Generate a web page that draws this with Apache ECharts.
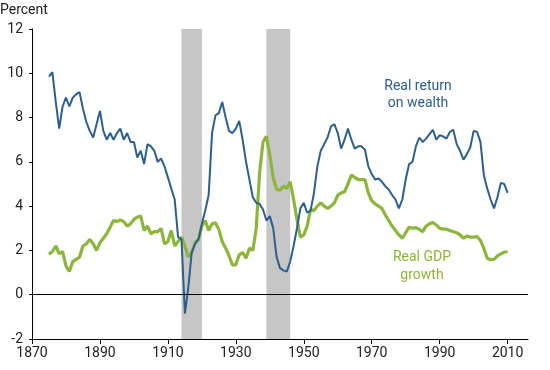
<!DOCTYPE html>
<html>
<head>
<meta charset="utf-8">
<script src="https://cdn.jsdelivr.net/npm/echarts@6/dist/echarts.min.js"></script>
<style>
html,body{margin:0;padding:0;background:#fff;}
#chart{width:550px;height:370px;}
</style>
</head>
<body>
<div id="chart"></div>
<script>
// ---- Data ----
const startYear = 1875;
const realReturnOnWealth = [
  9.85, 10.05, 8.7, 7.5, 8.5, 8.9, 8.5, 8.9, 9.05, 9.15,
  8.4, 7.8, 7.4, 7.1, 7.7, 8.3, 7.4, 7.0, 7.3, 7.0,
  7.3, 7.5, 7.0, 7.3, 6.9, 6.9, 6.2, 6.5, 5.9, 6.8,
  6.7, 6.5, 6.0, 6.15, 5.8, 5.3, 4.8, 4.3, 2.6, 2.5,
  -0.85, 0.3, 1.9, 2.3, 2.5, 3.2, 3.8, 4.5, 7.3, 8.1,
  8.2, 8.7, 8.0, 7.4, 7.3, 7.5, 7.85, 7.0, 6.0, 5.2,
  4.4, 4.15, 4.1, 3.85, 3.35, 3.55, 3.0, 1.7, 1.2, 1.1,
  1.05, 1.5, 2.2, 3.0, 3.9, 4.15, 3.7, 3.8, 4.6, 5.8,
  6.5, 6.8, 7.1, 7.6, 7.7, 7.3, 6.6, 7.0, 7.5, 7.0,
  6.6, 6.7, 6.7, 6.55, 5.8, 5.45, 5.2, 5.25, 5.1, 4.9,
  4.75, 4.5, 4.3, 3.9, 4.3, 5.2, 5.9, 6.0, 6.7, 7.1,
  6.9, 7.05, 7.25, 7.45, 7.0, 7.2, 7.15, 7.05, 7.35, 7.45,
  6.8, 6.5, 6.1, 6.35, 6.65, 7.4, 7.35, 6.9, 5.4, 4.8,
  4.3, 3.9, 4.4, 5.05, 5.0, 4.6
];
const realGdpGrowth = [
  1.83, 1.95, 2.2, 1.85, 1.95, 1.3, 1.05, 1.5, 1.6, 1.7,
  2.2, 2.3, 2.5, 2.3, 2.0, 2.35, 2.55, 2.75, 3.05, 3.35,
  3.3, 3.38, 3.3, 3.1, 3.2, 3.4, 3.5, 3.55, 2.9, 3.1,
  2.75, 2.85, 2.85, 3.0, 2.3, 2.4, 2.9, 2.2, 2.4, 2.6,
  2.2, 1.7, 1.9, 2.35, 2.5, 3.1, 3.35, 2.9, 3.2, 3.25,
  2.95, 2.4, 2.1, 1.75, 1.35, 1.35, 1.8, 1.9, 1.65, 2.1,
  2.0, 3.0, 5.5, 6.9, 7.15, 6.3, 5.3, 4.75, 4.72, 4.9,
  4.8, 5.1, 4.3, 3.4, 2.6, 2.7, 3.1, 3.85, 3.8, 4.0,
  4.15, 4.0, 3.9, 4.0, 4.15, 4.5, 4.6, 4.65, 5.0, 5.4,
  5.3, 5.2, 5.2, 5.2, 4.6, 4.25, 4.1, 4.0, 3.9, 3.6,
  3.35, 3.1, 2.9, 2.7, 2.55, 2.8, 3.05, 3.0, 3.03, 2.95,
  2.85, 3.1, 3.2, 3.26, 3.15, 3.0, 2.96, 2.96, 2.9, 2.85,
  2.8, 2.7, 2.55, 2.65, 2.6, 2.6, 2.63, 2.45, 2.1, 1.65,
  1.58, 1.6, 1.75, 1.85, 1.92, 1.95
];
const warPeriods = [[1914, 1920], [1939, 1946]];
const xTickLabels = [1870, 1890, 1910, 1930, 1950, 1970, 1990, 2010];
const yTickLabels = [-2, 0, 2, 4, 6, 8, 10, 12];

// ---- Build ----
const years = realReturnOnWealth.map((_, i) => startYear + i);
const blueData = years.map((y, i) => [y, realReturnOnWealth[i]]);
const greenData = years.map((y, i) => [y, realGdpGrowth[i]]);

const FONT = 'Roboto';
const BLUE = '#2d5f8e';
const GREEN = '#8db53c';

const chart = echarts.init(document.getElementById('chart'), null, {renderer: 'canvas'});
chart.setOption({
  animation: false,
  grid: {left: 32, right: 22, top: 29, bottom: 31, containLabel: false},
  xAxis: {
    type: 'value',
    min: 1870, max: 2016, interval: 20,
    axisLine: {show: true, onZero: false, lineStyle: {color: '#000', width: 1}},
    axisTick: {show: true, length: 5, lineStyle: {color: '#000'}, customValues: xTickLabels},
    axisLabel: {color: '#222', fontFamily: FONT, fontSize: 14, margin: 7, customValues: xTickLabels,
      formatter: v => String(v)},
    splitLine: {show: false}
  },
  yAxis: {
    type: 'value',
    min: -2, max: 12, interval: 2,
    axisLine: {show: true, onZero: false, lineStyle: {color: '#000', width: 1}},
    axisTick: {show: true, length: 3, lineStyle: {color: '#000'}, customValues: yTickLabels},
    axisLabel: {color: '#222', fontFamily: FONT, fontSize: 14, margin: 9, customValues: yTickLabels},
    splitLine: {show: false}
  },
  graphic: [
    {type: 'text', left: 0, top: 3, style: {text: 'Percent', font: '14px Roboto', fill: '#222'}},
    {type: 'text', x: 418, y: 95, style: {text: 'Real return\non wealth', font: '14px Roboto', fill: BLUE,
      textAlign: 'center', textVerticalAlign: 'middle', lineHeight: 17}},
    {type: 'text', x: 422, y: 266, style: {text: 'Real GDP\ngrowth', font: '14px Roboto', fill: GREEN,
      textAlign: 'center', textVerticalAlign: 'middle', lineHeight: 18}}
  ],
  series: [
    {
      type: 'line', name: 'bars', data: [], silent: true,
      markArea: {
        silent: true,
        itemStyle: {color: '#c6c6c6'},
        data: warPeriods.map(p => [{xAxis: p[0]}, {xAxis: p[1]}])
      },
      markLine: {
        silent: true, symbol: 'none', label: {show: false},
        lineStyle: {color: '#000', width: 1, type: 'solid'},
        data: [{yAxis: 0}]
      }
    },
    {
      type: 'line', name: 'Real GDP growth', data: greenData,
      showSymbol: false, smooth: false,
      lineStyle: {color: GREEN, width: 3.2}, z: 3
    },
    {
      type: 'line', name: 'Real return on wealth', data: blueData,
      showSymbol: false, smooth: false,
      lineStyle: {color: BLUE, width: 2}, z: 4
    }
  ]
});
</script>
</body>
</html>
